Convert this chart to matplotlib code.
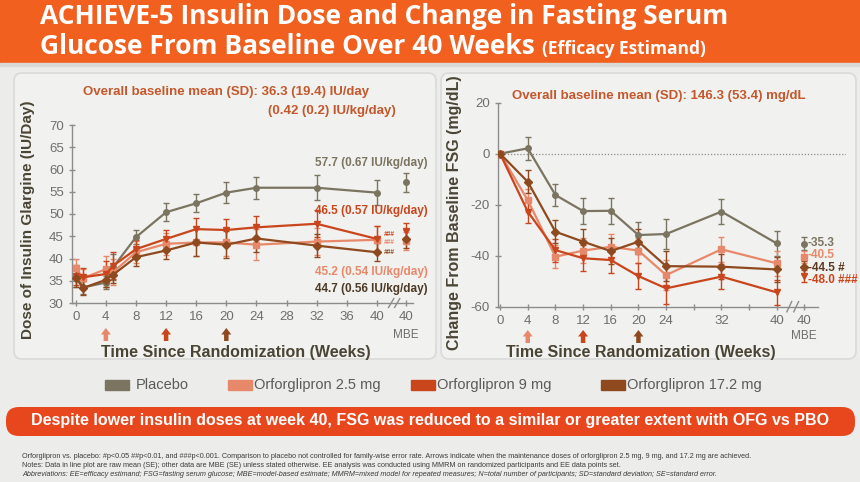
import matplotlib
matplotlib.use("Agg")
import matplotlib.pyplot as plt
from matplotlib.patches import FancyBboxPatch, Rectangle, FancyArrow

W, H = 860, 482

# ---- data: insulin dose (left) ----
dose_weeks = [0, 1, 4, 5, 8, 12, 16, 20, 24, 32, 40]
dose_placebo = [36.0, 33.5, 34.6, 38.1, 44.8, 50.4, 52.4, 54.8, 55.9, 55.9, 54.8]
dose_placebo_se = [2.5, 1.5, 1.5, 3.0, 1.5, 2.0, 2.0, 2.3, 2.5, 2.8, 2.8]
dose_2p5 = [37.8, 35.6, 37.6, 37.0, 41.4, 43.3, 43.6, 43.6, 43.1, 43.8, 44.2]
dose_2p5_se = [2.0, 2.0, 3.0, 3.0, 2.5, 2.5, 3.0, 3.0, 3.5, 3.0, 3.0]
dose_9 = [36.0, 35.8, 36.5, 38.4, 42.1, 44.4, 46.6, 46.4, 47.0, 47.8, 44.4]
dose_9_se = [2.0, 2.0, 3.0, 3.0, 2.0, 2.0, 2.5, 2.5, 2.5, 3.0, 3.0]
dose_17 = [35.6, 33.4, 35.2, 36.4, 40.3, 41.8, 43.6, 43.1, 44.5, 42.9, 41.4]
dose_17_se = [2.0, 1.5, 1.5, 2.0, 2.0, 2.0, 3.0, 3.0, 3.0, 2.5, 2.0]
dose_mbe = [57.1, 44.0, 46.1, 44.4]
dose_mbe_se = [2.2, 2.0, 1.8, 2.0]
dose_labels = ["57.7 (0.67 IU/kg/day)", "45.2 (0.54 IU/kg/day)",
               "46.5 (0.57 IU/kg/day)", "44.7 (0.56 IU/kg/day)"]

# ---- data: FSG change (right) ----
fsg_weeks = [0, 4, 8, 12, 16, 20, 24, 32, 40]
fsg_placebo = [0, 2.1, -16.2, -22.5, -22.4, -31.9, -31.5, -22.7, -35.2]
fsg_2p5 = [0, -18.2, -40.4, -38.0, -36.5, -38.0, -47.6, -37.5, -43.0]
fsg_9 = [0, -22.7, -37.8, -41.0, -41.7, -48.0, -52.8, -48.2, -54.4]
fsg_17 = [0, -11.0, -30.6, -34.5, -38.2, -34.5, -44.1, -44.3, -45.4]
fsg_se = [0, 4.5, 4.5, 5.0, 5.0, 5.0, 6.0, 5.0, 5.0]
fsg_mbe = [-35.3, -40.5, -48.0, -44.5]
fsg_mbe_se = [2.5, 2.5, 2.5, 2.5]
fsg_mbe_labels = ["-35.3", "-40.5", "-48.0 ###", "-44.5 #"]

groups = ["Placebo", "Orforglipron 2.5 mg", "Orforglipron 9 mg", "Orforglipron 17.2 mg"]
colors = ["#7b7460", "#e8886a", "#c9461d", "#8e4a1e"]
markers = ["o", "s", "v", "D"]
arrow_weeks = [4, 12, 20]

TXT = "#4a4434"
ORANGE_TXT = "#c4582c"
plt.rcParams["font.family"] = ["Liberation Sans", "DejaVu Sans"]
plt.rcParams["axes.unicode_minus"] = False

fig = plt.figure(figsize=(W / 100, H / 100), dpi=100)
fig.patch.set_facecolor("#ececea")


def box(x0, y0, x1, y1):
    return [x0 / W, 1 - y1 / H, (x1 - x0) / W, (y1 - y0) / H]


def ftext(px, py, s, **kw):
    return fig.text(px / W, 1 - py / H, s, **kw)


# background pieces
bg = fig.add_axes([0, 0, 1, 1])
bg.set_xlim(0, W)
bg.set_ylim(H, 0)
bg.axis("off")
bg.add_patch(Rectangle((0, 0), W, 63, color="#f1601f", zorder=0))
bg.add_patch(Rectangle((0, 63), W, 3, color="#d9d9d7", zorder=0))
for x0, x1 in [(14, 436), (441, 856)]:
    bg.add_patch(FancyBboxPatch((x0, 73), x1 - x0, 286, boxstyle="round,pad=0,rounding_size=8",
                                fc="#f1f1ef", ec="#dadad8", lw=1.2, zorder=1))
bg.add_patch(FancyBboxPatch((6, 407), 849, 29, boxstyle="round,pad=0,rounding_size=13",
                            fc="#e8471d", ec="none", zorder=1))

# title
TFONT = ["Open Sans", "DejaVu Sans"]
ftext(40, 16, "ACHIEVE-5 Insulin Dose and Change in Fasting Serum", color="white",
      fontsize=19, fontweight="bold", family=TFONT, va="center")
t2 = ftext(40, 46, "Glucose From Baseline Over 40 Weeks ", color="white",
           fontsize=19, fontweight="bold", family=TFONT, va="center")
fig.canvas.draw()
bb = t2.get_window_extent()
ftext(bb.x1, 49, "(Efficacy Estimand)", color="white", fontsize=12.5, fontweight="bold",
      family=TFONT, va="center")


def style_axes(ax):
    ax.set_facecolor("none")
    for s in ["top", "right"]:
        ax.spines[s].set_visible(False)
    for s in ["left", "bottom"]:
        ax.spines[s].set_color("#8c8c8c")
        ax.spines[s].set_linewidth(1.0)
    ax.tick_params(direction="inout", length=5, color="#8c8c8c", labelsize=9.5,
                   labelcolor="#6e6e6e", width=1.0)


def break_marks(ax, xs):
    tr = ax.get_xaxis_transform()
    for x in xs:
        ax.plot([x - 0.35, x + 0.35], [-0.025, 0.025], transform=tr, color="#8c8c8c",
                lw=1.0, clip_on=False)


def up_arrows(ax, y_px):
    # block arrows below the axis at the maintenance-dose weeks
    for wk, c in zip(arrow_weeks, colors[1:]):
        xd = ax.transData.transform((wk, 0))[0]
        bg.add_patch(FancyArrow(xd, y_px + 7, 0, -13, width=4.5, head_width=10,
                                head_length=6.5, length_includes_head=True,
                                fc=c, ec="none", zorder=3))


# ---- left panel ----
axL = fig.add_axes(box(72, 125, 413, 303))
style_axes(axL)
axL.set_xlim(-0.5, 44.8)
axL.set_ylim(30, 70)
axL.set_yticks(range(30, 71, 5))
axL.set_xticks(list(range(0, 41, 4)) + [43.9])
axL.set_xticklabels([str(v) for v in range(0, 41, 4)] + ["40"])
mbe_x = 43.9
left_series = [(dose_placebo, dose_placebo_se), (dose_2p5, dose_2p5_se),
               (dose_9, dose_9_se), (dose_17, dose_17_se)]
for i, (vals, se) in enumerate(left_series):
    axL.errorbar(dose_weeks, vals, yerr=se, color=colors[i], marker=markers[i], ms=4,
                 lw=1.6, elinewidth=1.0, capsize=2.5, capthick=1.0, zorder=3)
    axL.errorbar([mbe_x], [dose_mbe[i]], yerr=[dose_mbe_se[i]], color=colors[i],
                 marker=markers[i], ms=4, elinewidth=1.0, capsize=2.5, zorder=3)
for i, y in [(2, 45.4), (1, 43.7), (3, 41.3)]:
    axL.text(40.9, y, "###", color=colors[i], fontsize=4.8, fontstyle="italic",
             va="center", fontweight="bold")
break_marks(axL, [41.9, 42.7])

ftext(83, 92, "Overall baseline mean (SD): 36.3 (19.4) IU/day", color=ORANGE_TXT,
      fontsize=9.5, fontweight="bold", va="center")
ftext(396, 111, "(0.42 (0.2) IU/kg/day)", color=ORANGE_TXT, fontsize=9.5,
      fontweight="bold", va="center", ha="right")
for (py, lab), c in zip([(163, dose_labels[0]), (272, dose_labels[1]),
                         (211, dose_labels[2]), (289, dose_labels[3])], colors):
    c2 = "#4d3a26" if c == colors[3] else c
    ftext(428, py, lab, color=c2, fontsize=8.5, fontweight="bold", va="center", ha="right")
ftext(406, 335, "MBE", color="#6e6e6e", fontsize=8.5, ha="center", va="center")
ftext(28, 220, "Dose of Insulin Glargine (IU/Day)", color=TXT, fontsize=11,
      fontweight="bold", rotation=90, ha="center", va="center")
ftext(236, 352, "Time Since Randomization (Weeks)", color=TXT, fontsize=11.5,
      fontweight="bold", ha="center", va="center")

# ---- right panel ----
axR = fig.add_axes(box(498, 102.7, 846, 306.7))
style_axes(axR)
axR.set_xlim(-0.3, 50)
axR.set_ylim(-60, 20)
axR.spines["bottom"].set_bounds(-0.3, 46)
axR.set_yticks([-60, -40, -20, 0, 20])
ticks_r = fsg_weeks + [28, 36, 44]
axR.set_xticks(ticks_r)
axR.set_xticklabels([str(v) for v in fsg_weeks] + ["", "", "40"])
axR.axhline(0, color="#8c8c8c", lw=0.9, ls=(0, (1, 1.5)), zorder=1)
right_series = [fsg_placebo, fsg_2p5, fsg_9, fsg_17]
for i, vals in enumerate(right_series):
    axR.errorbar(fsg_weeks, vals, yerr=fsg_se, color=colors[i], marker=markers[i], ms=4,
                 lw=1.6, elinewidth=1.0, capsize=2.5, capthick=1.0, zorder=3)
    axR.errorbar([44], [fsg_mbe[i]], yerr=[fsg_mbe_se[i]], color=colors[i],
                 marker=markers[i], ms=4, elinewidth=1.0, capsize=2.5, zorder=3)
break_marks(axR, [41.8, 42.8])
for lab, py, c in zip(fsg_mbe_labels, [243, 255, 280, 268], colors):
    c2 = "#5a3a22" if c == colors[3] else c
    ftext(808, py, lab, color=c2, fontsize=8.5, fontweight="bold", va="center")
ftext(512, 96, "Overall baseline mean (SD): 146.3 (53.4) mg/dL", color=ORANGE_TXT,
      fontsize=9.5, fontweight="bold", va="center")
ftext(804, 336, "MBE", color="#6e6e6e", fontsize=8.5, ha="center", va="center")
ftext(454, 213, "Change From Baseline FSG (mg/dL)", color=TXT, fontsize=11.5,
      fontweight="bold", rotation=90, ha="center", va="center")
ftext(641, 352, "Time Since Randomization (Weeks)", color=TXT, fontsize=11.5,
      fontweight="bold", ha="center", va="center")

up_arrows(axL, 334)
up_arrows(axR, 336)

# legend row
leg_x = [105, 228, 411, 601]
for x, g, c in zip(leg_x, groups, colors):
    bg.add_patch(Rectangle((x, 380), 24, 10, color=c, zorder=2))
    ftext(x + (31 if x == 105 else 26), 385, g, color="#5a5a5a", fontsize=10.5,
          va="center")

ftext(430, 421, "Despite lower insulin doses at week 40, FSG was reduced to a similar or greater "
      "extent with OFG vs PBO", color="white", fontsize=11.5, fontweight="bold",
      ha="center", va="center")

foot = [
    ("Orforglipron vs. placebo: #p<0.05 ##p<0.01, and ###p<0.001. Comparison to placebo not controlled "
     "for family-wise error rate. Arrows indicate when the maintenance doses of orforglipron 2.5 mg, "
     "9 mg, and 17.2 mg are achieved.", "normal"),
    ("Notes: Data in line plot are raw mean (SE); other data are MBE (SE) unless stated otherwise. "
     "EE analysis was conducted using MMRM on randomized participants and EE data points set.", "normal"),
    ("Abbreviations: EE=efficacy estimand; FSG=fasting serum glucose; MBE=model-based estimate; "
     "MMRM=mixed model for repeated measures; N=total number of participants; SD=standard deviation; "
     "SE=standard error.", "italic"),
]
for k, (s, st) in enumerate(foot):
    ftext(22, 456 + k * 9.5, s, color="#3c3c3c", fontsize=5.2,
          fontstyle=st, va="center")

fig.savefig("out.png", dpi=100, facecolor=fig.get_facecolor())
